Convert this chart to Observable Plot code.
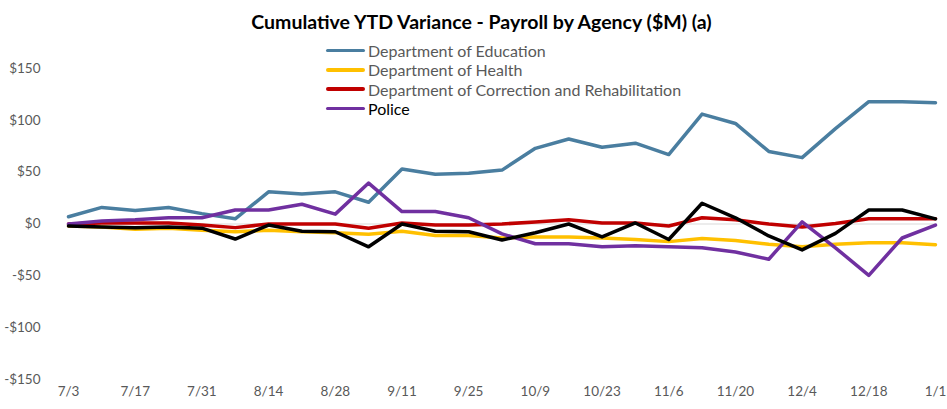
<!DOCTYPE html>
<html>
<head>
<meta charset="utf-8">
<script src="https://cdn.jsdelivr.net/npm/d3@7"></script>
<script src="https://cdn.jsdelivr.net/npm/@observablehq/plot@0.6"></script>
<style>
  html, body { margin: 0; padding: 0; background: #fff; }
  #wrap { position: relative; width: 947px; height: 409px; font-family: Lato, "Liberation Sans", sans-serif; }
  #chart { position: absolute; left: 0; top: 0; }
  #title { position: absolute; top: 10px; left: 0; width: 963px; text-align: center; font-weight: bold; font-size: 19.5px; line-height: 23px; color: #000; }
  #legend { position: absolute; left: 326px; top: 41px; font-size: 16px; color: #595959; }
  .item { height: 19.3px; display: flex; align-items: center; }
  .sw { width: 39px; height: 3.5px; border-radius: 2px; margin-right: 3px; }
</style>
</head>
<body>
<div id="wrap">
  <div id="chart"></div>
  <div id="title">Cumulative YTD Variance - Payroll by Agency ($M) (a)</div>
  <div id="legend"></div>
</div>
<script>
const weeks = ["2022-07-03","2022-07-10","2022-07-17","2022-07-24","2022-07-31","2022-08-07","2022-08-14","2022-08-21","2022-08-28","2022-09-04","2022-09-11","2022-09-18","2022-09-25","2022-10-02","2022-10-09","2022-10-16","2022-10-23","2022-10-30","2022-11-06","2022-11-13","2022-11-20","2022-11-27","2022-12-04","2022-12-11","2022-12-18","2022-12-25","2023-01-01"];
const tickWeeks = ["2022-07-03","2022-07-17","2022-07-31","2022-08-14","2022-08-28","2022-09-11","2022-09-25","2022-10-09","2022-10-23","2022-11-06","2022-11-20","2022-12-04","2022-12-18","2023-01-01"];
const yTicks = [-150,-100,-50,0,50,100,150];

const education  = [7,16,13,16,10,5,31,29,31,21,53,48,49,52,73,82,74,78,67,106,97,70,64,92,118,118,117];
const health     = [-2,-3,-5,-4,-6,-7.5,-6,-7.5,-8.5,-10,-7,-11,-11,-13.5,-12.5,-12.5,-13.5,-15,-17,-14,-16,-19.5,-22,-19.5,-18,-18,-20];
const correction = [0,1,1,1,-1,-3.5,0,0,0,-4,1,-1,-1,0,2,4,1,1,-2,6,4,0,-3,0.5,5,5,5];
const police     = [0,3,4,6,6,13.5,13.5,19,9.5,39.5,12,12,6,-9.5,-19,-19,-22,-21,-22,-23,-27,-34,2,-23,-49.5,-13.5,-1];
const unlabeled  = [-2,-3,-3.5,-3,-4,-14.5,-1,-7,-7.5,-22,0,-7,-7.5,-15.5,-8.5,0,-12.5,1,-15,20,6,-11.5,-25,-9,13.5,13.5,5];

const seriesNames  = ["Department of Education","Department of Health","Department of Correction and Rehabilitation","Police","Unlabeled"];
const seriesValues = [education, health, correction, police, unlabeled];
const seriesColors = ["#4a7ea0","#ffc000","#c00000","#7030a0","#000000"];
const legendShown  = [true, true, true, true, false];

const parse = d3.utcParse("%Y-%m-%d");
const rows = [];
seriesNames.forEach((name, s) => {
  seriesValues[s].forEach((v, i) => rows.push({series: name, date: parse(weeks[i]), value: v}));
});

const fmtMoney = d => (d < 0 ? "-$" : "$") + Math.abs(d);
const fmtDate = d3.utcFormat("%-m/%-d");

const chart = Plot.plot({
  width: 947,
  height: 409,
  marginLeft: 68,
  marginRight: 12,
  marginTop: 68,
  marginBottom: 30,
  style: {fontFamily: "Lato, 'Liberation Sans', sans-serif", fontSize: "13.5px", color: "#595959", background: "#fff"},
  x: {type: "utc", domain: [parse(weeks[0]), parse(weeks[weeks.length - 1])], ticks: tickWeeks.map(parse), tickFormat: fmtDate, tickSize: 0, tickPadding: 7, label: null},
  y: {domain: [-150, 150], ticks: yTicks, tickFormat: fmtMoney, tickSize: 0, tickPadding: 28, label: null},
  color: {domain: seriesNames, range: seriesColors},
  marks: [
    Plot.ruleY([0], {stroke: "#d9d9d9", strokeWidth: 1}),
    Plot.lineY(rows, {x: "date", y: "value", z: "series", stroke: "series", strokeWidth: 3.5, strokeLinejoin: "round", strokeLinecap: "round"})
  ]
});
document.getElementById("chart").appendChild(chart);

const legend = document.getElementById("legend");
seriesNames.forEach((name, s) => {
  if (!legendShown[s]) return;
  const item = document.createElement("div");
  item.className = "item";
  const sw = document.createElement("span");
  sw.className = "sw";
  sw.style.background = seriesColors[s];
  const lbl = document.createElement("span");
  lbl.textContent = name;
  if (name === "Police") lbl.style.color = "#000";
  item.appendChild(sw);
  item.appendChild(lbl);
  legend.appendChild(item);
});
</script>
</body>
</html>
